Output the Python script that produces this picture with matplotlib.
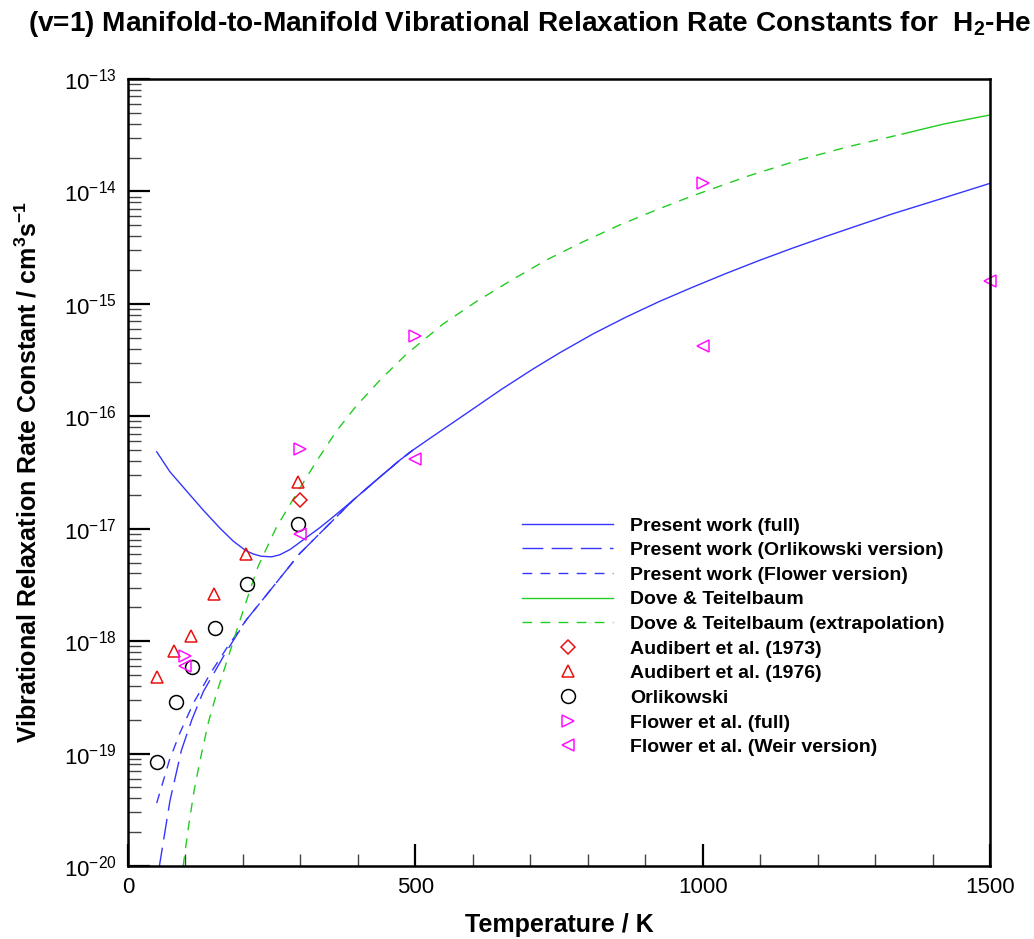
import numpy as np
import matplotlib
matplotlib.use('Agg')
import matplotlib.pyplot as plt
from matplotlib.ticker import MultipleLocator, LogLocator, NullFormatter

plt.rcParams['font.family'] = ['Liberation Sans', 'DejaVu Sans']
plt.rcParams['mathtext.fontset'] = 'custom'
plt.rcParams['mathtext.rm'] = 'Liberation Sans'
plt.rcParams['mathtext.bf'] = 'Liberation Sans:bold'
plt.rcParams['mathtext.default'] = 'regular'

# Present work (full), log10 of rate constant
T_full = [50, 73, 102, 131, 160, 183, 205, 218, 232, 250, 264, 282, 302, 334, 357, 392, 432, 473, 496, 530, 589,
          650, 704, 750, 810, 867, 925, 982, 1040, 1098, 1156, 1214, 1272, 1330, 1415, 1500]
lk_full = [-16.316, -16.494, -16.665, -16.835, -16.995, -17.11, -17.195, -17.225, -17.245, -17.25, -17.232, -17.185,
           -17.11, -16.99, -16.895, -16.745, -16.568, -16.39, -16.30, -16.18, -15.974,
           -15.76, -15.582, -15.439, -15.265, -15.117, -14.978, -14.853, -14.731, -14.615, -14.505, -14.401,
           -14.30, -14.20, -14.065, -13.928]

# Present work (Orlikowski version)
T_orl = [54, 73, 93, 111, 131, 169, 206, 229, 299, 392, 432, 473, 496]
lk_orl = [-20.02, -19.42, -18.97, -18.70, -18.45, -18.11, -17.81, -17.665, -17.22, -16.745, -16.568, -16.39, -16.30]

# Present work (Flower version)
T_flw = [50, 72, 90, 114, 143, 172, 206, 229, 299, 392, 432, 473, 496]
lk_flw = [-19.44, -19.06, -18.82, -18.55, -18.29, -18.06, -17.81, -17.665, -17.22, -16.745, -16.568, -16.39, -16.30]

# Dove & Teitelbaum (measured range) and extrapolation
T_dt = [1347, 1420, 1500]
lk_dt = [-13.49, -13.40, -13.32]
T_dtx = [96, 105, 115, 125, 140, 155, 172, 192, 212, 226, 258, 293, 328, 363, 397, 440, 484, 548, 606, 667, 728,
         791, 855, 919, 982, 1081, 1168, 1255, 1347]
lk_dtx = [-20.00, -19.66, -19.33, -19.07, -18.72, -18.45, -18.18, -17.86, -17.55, -17.34, -16.99, -16.69, -16.40,
          -16.13, -15.91, -15.67, -15.45, -15.18, -14.98, -14.79, -14.61, -14.45, -14.30, -14.165, -14.04, -13.86,
          -13.72, -13.60, -13.49]

# experimental / other points
T_aud73 = [300]
k_aud73 = [1.8e-17]
T_aud76 = [50, 80, 110, 150, 205, 295]
k_aud76 = [4.8e-19, 8.2e-19, 1.1e-18, 2.6e-18, 6.0e-18, 2.6e-17]
T_orlik = [50, 83, 111, 152, 207, 295]
k_orlik = [8.5e-20, 2.9e-19, 5.9e-19, 1.3e-18, 3.2e-18, 1.1e-17]
T_flfull = [100, 300, 500, 1000]
k_flfull = [7.4e-19, 5.1e-17, 5.2e-16, 1.2e-14]
T_flweir = [100, 300, 500, 1000, 1500]
k_flweir = [6.0e-19, 8.9e-18, 4.2e-17, 4.2e-16, 1.6e-15]

x_ticks = [0, 500, 1000, 1500]
y_exps = [-20, -19, -18, -17, -16, -15, -14, -13]
y_tick_labels = [r'$10^{%d}$' % e for e in y_exps]

blue = '#3535ff'
green = '#22cc22'
red = '#e81010'
mag = '#ff10ff'

fig = plt.figure(figsize=(10.34, 9.39), dpi=100)
ax = fig.add_axes([128 / 1034, 1 - 866 / 939, 862 / 1034, 787 / 939])

lw = 1.0
ax.plot(T_full, 10.0 ** np.array(lk_full), color=blue, lw=lw, label='Present work (full)')
ax.plot(T_orl, 10.0 ** np.array(lk_orl), color=blue, lw=lw, dashes=(15, 6), label='Present work (Orlikowski version)')
ax.plot(T_flw, 10.0 ** np.array(lk_flw), color=blue, lw=lw, dashes=(7, 6), label='Present work (Flower version)')
ax.plot(T_dt, 10.0 ** np.array(lk_dt), color=green, lw=lw, label='Dove & Teitelbaum')
ax.plot(T_dtx, 10.0 ** np.array(lk_dtx), color=green, lw=lw, dashes=(7, 6), label='Dove & Teitelbaum (extrapolation)')

mk = dict(ls='none', mfc='none', mew=1.1, ms=9, clip_on=False)
ax.plot(T_aud73, k_aud73, marker='D', color=red, label='Audibert et al. (1973)', **dict(mk, ms=7.5))
ax.plot(T_aud76, k_aud76, marker='^', color=red, label='Audibert et al. (1976)', **mk)
ax.plot(T_orlik, k_orlik, marker='o', color='black', label='Orlikowski', **dict(mk, ms=10))
ax.plot(T_flfull, k_flfull, marker='>', color=mag, label='Flower et al. (full)', **mk)
ax.plot(T_flweir, k_flweir, marker='<', color=mag, label='Flower et al. (Weir version)', **mk)

ax.set_yscale('log')
ax.set_xlim(0, 1500)
ax.set_ylim(1e-20, 1e-13)
ax.set_xticks(x_ticks)
ax.set_xticklabels([str(v) for v in x_ticks])
ax.xaxis.set_minor_locator(MultipleLocator(100))
ax.set_yticks([10.0 ** e for e in y_exps])
ax.set_yticklabels(y_tick_labels)
ax.yaxis.set_minor_locator(LogLocator(base=10, subs=np.arange(2, 10), numticks=20))
ax.yaxis.set_minor_formatter(NullFormatter())

ax.tick_params(which='both', direction='in', top=False, right=False)
ax.tick_params(which='major', length=16, width=1.6, labelsize=16, pad=8)
ax.tick_params(which='minor', length=9, width=1.0, color='#444444')
for s in ax.spines.values():
    s.set_linewidth(1.8)

leg = ax.legend(loc='upper left', bbox_to_anchor=(522 / 1034, 1 - 517 / 939), bbox_transform=fig.transFigure,
                frameon=False, fontsize=14, handlelength=4.7, handletextpad=0.88, labelspacing=0.36,
                borderpad=0, borderaxespad=0, numpoints=1)
for t in leg.get_texts():
    t.set_fontweight('bold')

fig.text(28 / 1034, 1 - 24 / 939, r'(v=1) Manifold-to-Manifold Vibrational Relaxation Rate Constants for  H$_\mathbf{2}$-He',
         fontsize=20.2, fontweight='bold', ha='left', va='center')
fig.text(559 / 1034, 1 - 925 / 939, 'Temperature / K', fontsize=18, fontweight='bold', ha='center', va='center')
fig.text(28 / 1034, 1 - 472 / 939, r'Vibrational Relaxation Rate Constant / cm$^3$s$^{-1}$',
         fontsize=18, fontweight='bold', ha='center', va='center', rotation=90)

fig.savefig('out.png', dpi=100)
